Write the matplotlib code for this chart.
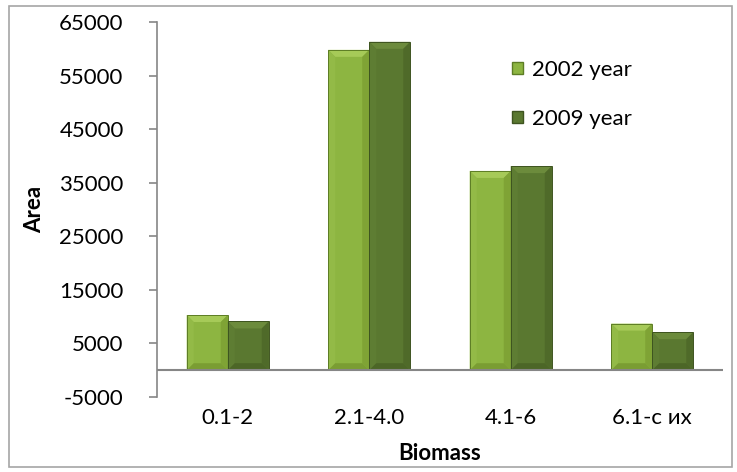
import numpy as np
import matplotlib
matplotlib.use('Agg')
from matplotlib import pyplot as plt
from matplotlib.patches import Polygon, Patch

plt.rcParams['font.family'] = ['Lato', 'DejaVu Sans']

categories = ['0.1-2', '2.1-4.0', '4.1-6', '6.1-с их']
area2002 = [10300, 59800, 37200, 8700]
area2009 = [9100, 61300, 38100, 7100]
yticks = [-5000, 5000, 15000, 25000, 35000, 45000, 55000, 65000]

# face / top / left / right / bottom shades for the bevelled bars
shades2002 = ['#8db541', '#a6ca58', '#93ba47', '#7fa335', '#7a9d33', '#5d7d25']
shades2009 = ['#5a7830', '#6c8b3c', '#5e7d33', '#4f6a29', '#4c6627', '#3e5420']
axisGrey = '#868686'
fontSize = 16

fig = plt.figure(figsize=(7.37, 4.72), dpi=100)
ax = fig.add_axes([157 / 737, 1 - 397 / 472, 566 / 737, 375 / 472])

x = np.arange(len(categories))
barWidth = 0.29
bars1 = ax.bar(x - barWidth / 2, area2002, barWidth, color=shades2002[0],
               edgecolor='none', zorder=2)
bars2 = ax.bar(x + barWidth / 2, area2009, barWidth, color=shades2009[0],
               edgecolor='none', zorder=2)

ax.set_xlim(-0.5, len(categories) - 0.5)
ax.set_ylim(-5000, 65000)


def bevel(rect, shades, px=7):
    # bevel size in pixels turned into data units
    p0 = ax.transData.transform((0, 0))
    p1 = ax.transData.transform((1, 1))
    dx = px / (p1[0] - p0[0])
    dy = px / (p1[1] - p0[1])
    x0 = rect.get_x()
    x1 = x0 + rect.get_width()
    y0 = 0
    y1 = rect.get_height()
    faces = [
        ([(x0, y1), (x1, y1), (x1 - dx, y1 - dy), (x0 + dx, y1 - dy)], shades[1]),
        ([(x0, y0), (x0, y1), (x0 + dx, y1 - dy), (x0 + dx, y0 + dy)], shades[2]),
        ([(x1, y0), (x1, y1), (x1 - dx, y1 - dy), (x1 - dx, y0 + dy)], shades[3]),
        ([(x0, y0), (x1, y0), (x1 - dx, y0 + dy), (x0 + dx, y0 + dy)], shades[4]),
    ]
    for pts, c in faces:
        ax.add_patch(Polygon(pts, closed=True, facecolor=c, edgecolor='none', zorder=3))
    ax.add_patch(Polygon([(x0, y0), (x0, y1), (x1, y1), (x1, y0)], closed=True,
                         facecolor='none', edgecolor=shades[5], linewidth=0.7, zorder=4))


for r in bars1:
    bevel(r, shades2002)
for r in bars2:
    bevel(r, shades2009)

# category axis sits on zero
ax.axhline(0, color=axisGrey, linewidth=1.5, zorder=5)

for s in ['top', 'right', 'bottom']:
    ax.spines[s].set_visible(False)
ax.spines['left'].set_color(axisGrey)
ax.spines['left'].set_linewidth(1.2)

ax.set_yticks(yticks)
ax.set_yticklabels([str(t) for t in yticks])
ax.tick_params(axis='y', length=6, width=1.2, color=axisGrey, pad=18, labelsize=fontSize)
ax.set_xticks(x)
ax.set_xticklabels(categories)
ax.tick_params(axis='x', length=0, pad=8, labelsize=fontSize)

fig.text(440 / 737, 1 - 453 / 472, 'Biomass', ha='center', va='center',
         fontsize=fontSize, fontweight='bold')
fig.text(35 / 737, 1 - 209 / 472, 'Area', ha='center', va='center',
         rotation=90, fontsize=fontSize, fontweight='bold')

handles = [Patch(facecolor=shades2002[0], edgecolor=shades2002[5], label='2002 year'),
           Patch(facecolor=shades2009[0], edgecolor=shades2009[5], label='2009 year')]
ax.legend(handles=handles, loc='upper left', bbox_to_anchor=(512 / 737, 1 - 60 / 472),
          bbox_transform=fig.transFigure, frameon=False, fontsize=fontSize,
          handlelength=0.5, handleheight=0.5, handletextpad=0.4, labelspacing=1.3,
          borderaxespad=0, borderpad=0)

# outer chart border
fig.patches.append(plt.Rectangle((9 / 737, 5 / 472), 723 / 737, 461 / 472,
                                 transform=fig.transFigure, fill=False,
                                 edgecolor='#a6a6a6', linewidth=1.2))

fig.savefig('out.png', dpi=100)
plt.close(fig)
